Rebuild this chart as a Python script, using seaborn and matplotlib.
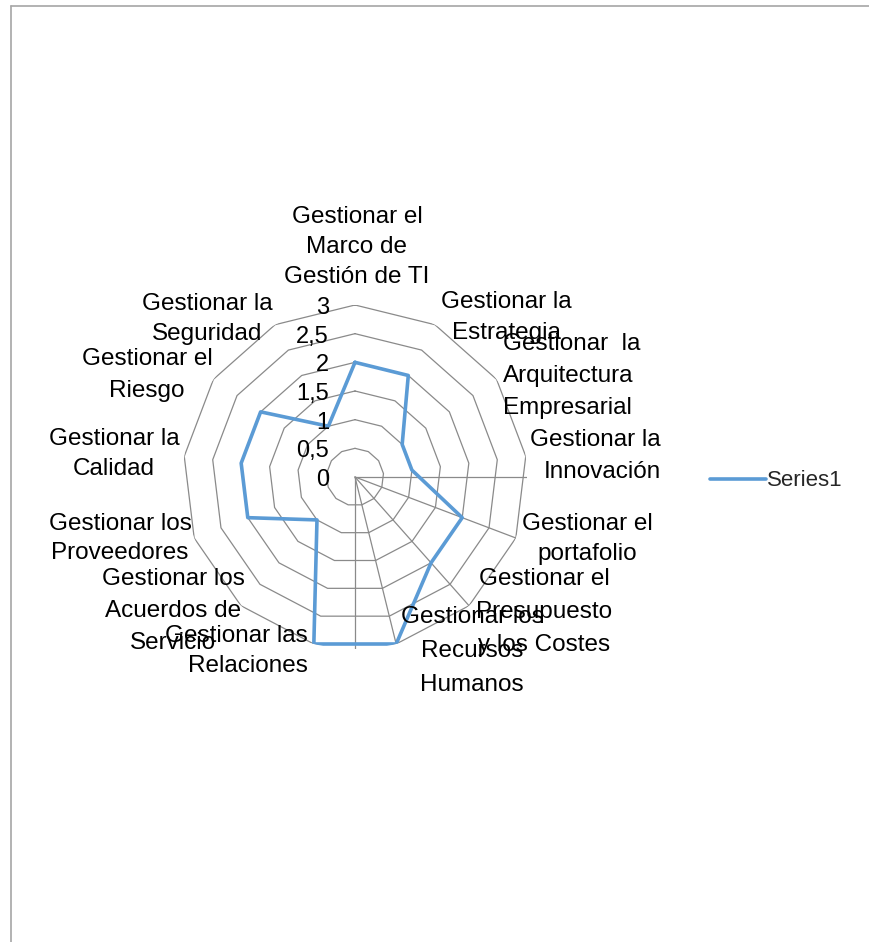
"""
Radar chart: nivel de los procesos de gestión (Series1)
"""

import numpy as np
import pandas as pd
import matplotlib
matplotlib.use("Agg")
import matplotlib.pyplot as plt
import matplotlib.transforms as mtransforms
from matplotlib.lines import Line2D
import seaborn as sns

sns.set_style("white")
plt.rcParams['font.family'] = ['Liberation Sans', 'DejaVu Sans']

# ---- data ----
categories = [
    "Gestionar el\nMarco de\nGestión de TI",
    "Gestionar la\nEstrategia",
    "Gestionar  la\nArquitectura\nEmpresarial",
    "Gestionar la\nInnovación",
    "Gestionar el\nportafolio",
    "Gestionar el\nPresupuesto\ny los Costes",
    "Gestionar los\nRecursos\nHumanos",
    "Gestionar las\nRelaciones",
    "Gestionar los\nAcuerdos de\nServicio",
    "Gestionar los\nProveedores",
    "Gestionar la\nCalidad",
    "Gestionar el\nRiesgo",
    "Gestionar la\nSeguridad",
]
series1 = [2, 2, 1, 1, 2, 2, 3, 3, 1, 2, 2, 2, 1]
ring_levels = [0.5, 1, 1.5, 2, 2.5, 3]
tick_labels = ["0", "0,5", "1", "1,5", "2", "2,5", "3"]
tick_values = [0, 0.5, 1, 1.5, 2, 2.5, 3]

# layout of the category labels (pixels: x, y of first line centre, align, line step)
label_layout = [
    (357, 215, "center", 30),
    (506, 300, "center", 31),
    (503, 342, "left", 32),
    (661, 438, "right", 32),
    (587, 522, "center", 30),
    (544, 577, "center", 33),
    (472, 615, "center", 34),
    (308, 634, "right", 30),
    (173, 577, "center", 32),
    (120, 522, "center", 29),
    (114, 437, "center", 30),
    (147, 357, "center", 32),
    (207, 302, "center", 30),
]

W, H = 869, 942
LINE_BLUE = "#5B9BD5"
GRID_GRAY = "#8A8A8A"

n = len(categories)
theta = np.arange(n) * 2 * np.pi / n
theta_closed = np.append(theta, 2 * np.pi)

df = pd.DataFrame({"theta": theta_closed,
                   "value": series1 + series1[:1]})

fig = plt.figure(figsize=(W / 100, H / 100), dpi=100)
cx, cy, rad = 355, 477, 172
ax = fig.add_axes([(cx - rad) / W, (H - cy - rad) / H, 2 * rad / W, 2 * rad / H],
                  projection="polar")
ax.set_theta_zero_location("N")
ax.set_theta_direction(-1)
ax.set_ylim(0, 3)
ax.grid(False)
ax.set_xticks([])
ax.set_yticks([])
ax.spines["polar"].set_visible(False)
ax.patch.set_alpha(0)

# polygon rings
for lev in ring_levels:
    ax.plot(theta_closed, [lev] * (n + 1), color=GRID_GRAY, lw=0.9, zorder=1)

# spokes (only a few are drawn in the original)
spoke_angles = [np.pi / 2, theta[4], theta[5], theta[6], np.pi]
for a in spoke_angles:
    ax.plot([a, a], [0, 3], color=GRID_GRAY, lw=0.9, zorder=1)

sns.lineplot(data=df, x="theta", y="value", sort=False, estimator=None,
             color=LINE_BLUE, linewidth=2.6, label="Series1", ax=ax, zorder=3)
ax.set_xlabel("")
ax.set_ylabel("")
ax.get_legend().remove()

# radial tick labels
tick_trans = mtransforms.offset_copy(ax.transData, fig=fig, x=-26, y=-3, units="dots")
for v, lab in zip(tick_values, tick_labels):
    ax.text(0, v, lab, transform=tick_trans, ha="right", va="center",
            fontsize=17, color="black")

# category labels
for text, (x, y, ha, step) in zip(categories, label_layout):
    for i, line in enumerate(text.split("\n")):
        fig.text(x / W, 1 - (y + i * step + 8) / H, line, ha=ha, va="baseline",
                 fontsize=17.5, color="black")

# legend
handles, labels = ax.get_legend_handles_labels()
fig.legend(handles, labels, loc="center left",
           bbox_to_anchor=(710 / W, 1 - 481 / H), frameon=False,
           fontsize=16, handlelength=2.5, handletextpad=0.05,
           borderpad=0, borderaxespad=0)

# chart area border (cut off at right/bottom)
fig.add_artist(Line2D([10.5 / W, 10.5 / W], [0, 1 - 5.5 / H], color="#A6A6A6", lw=1.2))
fig.add_artist(Line2D([10.5 / W, 1], [1 - 5.5 / H, 1 - 5.5 / H], color="#A6A6A6", lw=1.2))

fig.savefig("out.png", dpi=100)
